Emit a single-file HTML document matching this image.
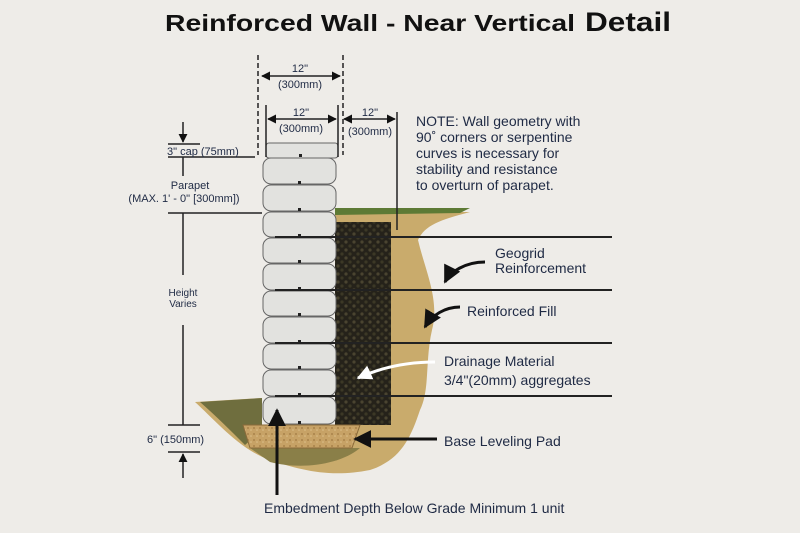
<!DOCTYPE html>
<html><head><meta charset="utf-8"><style>
html,body{margin:0;padding:0;background:#eeece8;}
svg{display:block}
text{font-family:"Liberation Sans",sans-serif;fill:#1f2a44}
</style></head><body>
<svg width="800" height="533" viewBox="0 0 800 533" xmlns="http://www.w3.org/2000/svg">
<defs>
<pattern id="agg" width="8" height="8" patternUnits="userSpaceOnUse">
<rect width="8" height="8" fill="#25221a"/>
<circle cx="2" cy="2" r="1.6" fill="#4a4430"/>
<circle cx="6" cy="6" r="1.6" fill="#3c3826"/>
</pattern>
<pattern id="pad" width="6" height="6" patternUnits="userSpaceOnUse">
<rect width="6" height="6" fill="#c7a266"/>
<circle cx="2" cy="2" r="1" fill="#a8834a"/>
<circle cx="5" cy="4" r="0.8" fill="#dcc08a"/>
</pattern>
<marker id="ah" viewBox="0 0 10 10" refX="9" refY="5" markerWidth="6" markerHeight="6" orient="auto-start-reverse"><path d="M0,0 L10,5 L0,10 z" fill="#111"/></marker>
<marker id="ahw" viewBox="0 0 10 10" refX="9" refY="5" markerWidth="5" markerHeight="5" orient="auto"><path d="M0,0 L10,5 L0,10 z" fill="#fff"/></marker>
</defs>

<text x="165" y="31" font-size="23" font-weight="bold" style="fill:#111" textLength="410" lengthAdjust="spacingAndGlyphs">Reinforced Wall - Near Vertical</text>
<text x="585" y="31" font-size="27" font-weight="bold" style="fill:#111" textLength="86" lengthAdjust="spacingAndGlyphs">Detail</text>

<!-- soil behind -->
<path d="M335,212 L470,212 C440,220 425,225 418,240 C425,270 440,300 432,330 C425,360 430,390 420,410 C410,440 400,460 370,470 C330,478 300,470 270,460 C240,450 215,420 195,402 L262,398 L262,425 L335,425 Z" fill="#c9ab6c"/>
<path d="M200,402 L262,398 L262,430 L245,445 C230,430 215,415 200,402 Z" fill="#6f6e3e"/>
<path d="M250,448 L360,448 C340,465 300,470 270,462 Z" fill="#8a7f48"/>
<path d="M335,208 L470,208 L460,213 L335,215 Z" fill="#5d7a35"/>
<rect x="335" y="222" width="56" height="203" fill="url(#agg)"/>
<path d="M243,425 L360,425 L352,448 L250,448 Z" fill="url(#pad)" stroke="#8a6a3a" stroke-width="1"/>

<!-- blocks -->
<g fill="#e2e2df" stroke="#666" stroke-width="1">
<rect x="266" y="143" width="72" height="15" rx="3"/>
<rect x="263" y="158" width="73" height="26" rx="8"/>
<rect x="263" y="185" width="73" height="26" rx="8"/>
<rect x="263" y="212" width="73" height="25" rx="8"/>
<rect x="263" y="238" width="73" height="25" rx="8"/>
<rect x="263" y="264" width="73" height="26" rx="8"/>
<rect x="263" y="291" width="73" height="25" rx="8"/>
<rect x="263" y="317" width="73" height="26" rx="8"/>
<rect x="263" y="344" width="73" height="25" rx="8"/>
<rect x="263" y="370" width="73" height="26" rx="8"/>
<rect x="263" y="397" width="73" height="27" rx="8"/>
</g>
<g fill="#222"><rect x="299" y="154" width="3" height="3"/><rect x="298" y="181" width="3" height="3"/><rect x="298" y="208" width="3" height="3"/><rect x="298" y="234" width="3" height="3"/><rect x="298" y="260" width="3" height="3"/><rect x="298" y="287" width="3" height="3"/><rect x="298" y="313" width="3" height="3"/><rect x="298" y="340" width="3" height="3"/><rect x="298" y="366" width="3" height="3"/><rect x="298" y="393" width="3" height="3"/><rect x="298" y="421" width="3" height="3"/></g>

<!-- geogrid lines -->
<g stroke="#222" stroke-width="2">
<line x1="275" y1="237" x2="612" y2="237"/>
<line x1="275" y1="290" x2="612" y2="290"/>
<line x1="275" y1="343" x2="612" y2="343"/>
<line x1="275" y1="396" x2="612" y2="396"/>
</g>

<!-- dims top -->
<g stroke="#222" stroke-width="1.5" fill="none">
<line x1="258" y1="55" x2="258" y2="155" stroke-dasharray="5,3"/>
<line x1="343" y1="55" x2="343" y2="155" stroke-dasharray="5,3"/>
<line x1="262" y1="76" x2="340" y2="76" marker-start="url(#ah)" marker-end="url(#ah)"/>
<line x1="266" y1="105" x2="266" y2="157"/>
<line x1="338" y1="105" x2="338" y2="157"/>
<line x1="268" y1="119" x2="336" y2="119" marker-start="url(#ah)" marker-end="url(#ah)"/>
<line x1="344" y1="119" x2="395" y2="119" marker-start="url(#ah)" marker-end="url(#ah)"/>
<line x1="397" y1="112" x2="397" y2="230"/>
<line x1="183" y1="122" x2="183" y2="142" marker-end="url(#ah)"/>
<line x1="168" y1="144" x2="200" y2="144"/>
<line x1="168" y1="157" x2="255" y2="157"/>
<line x1="183" y1="157" x2="183" y2="176"/>
<line x1="168" y1="213" x2="262" y2="213"/>
<line x1="183" y1="213" x2="183" y2="275"/>
<line x1="183" y1="325" x2="183" y2="425"/>
<line x1="168" y1="425" x2="200" y2="425"/>
<line x1="168" y1="452" x2="200" y2="452"/>
<line x1="183" y1="478" x2="183" y2="454" marker-end="url(#ah)"/>
</g>
<g stroke="#111" stroke-width="3" fill="none">
<line x1="277" y1="495" x2="277" y2="410" marker-end="url(#ah)"/>
<line x1="437" y1="439" x2="355" y2="439" marker-end="url(#ah)"/>
<path d="M485,262 C465,262 450,272 445,282" marker-end="url(#ah)"/>
<path d="M460,307 C445,307 432,315 425,327" marker-end="url(#ah)"/>
</g>
<path d="M435,362 C405,362 380,368 358,378" stroke="#fff" stroke-width="3" fill="none" marker-end="url(#ahw)"/>

<g font-size="11">
<text x="300" y="72" text-anchor="middle">12"</text>
<text x="300" y="88" text-anchor="middle">(300mm)</text>
<text x="301" y="116" text-anchor="middle">12"</text>
<text x="301" y="132" text-anchor="middle">(300mm)</text>
<text x="370" y="116" text-anchor="middle">12"</text>
<text x="370" y="135" text-anchor="middle">(300mm)</text>
<text x="167" y="155">3" cap (75mm)</text>
<text x="190" y="189" text-anchor="middle">Parapet</text>
<text x="184" y="202" text-anchor="middle">(MAX. 1' - 0" [300mm])</text>
<text x="183" y="296" text-anchor="middle" font-size="10">Height</text>
<text x="183" y="307" text-anchor="middle" font-size="10">Varies</text>
<text x="147" y="443">6"  (150mm)</text>
</g>
<g font-size="14">
<text x="416" y="126">NOTE: Wall geometry with</text>
<text x="416" y="142">90˚ corners or serpentine</text>
<text x="416" y="158">curves is necessary for</text>
<text x="416" y="174">stability and resistance</text>
<text x="416" y="190">to overturn of parapet.</text>
<text x="495" y="258">Geogrid</text>
<text x="495" y="273">Reinforcement</text>
<text x="467" y="316">Reinforced Fill</text>
<text x="444" y="366">Drainage Material</text>
<text x="444" y="385">3/4"(20mm) aggregates</text>
<text x="444" y="446">Base Leveling Pad</text>
<text x="264" y="513">Embedment Depth Below Grade Minimum 1 unit</text>
</g>
</svg>
</body></html>
